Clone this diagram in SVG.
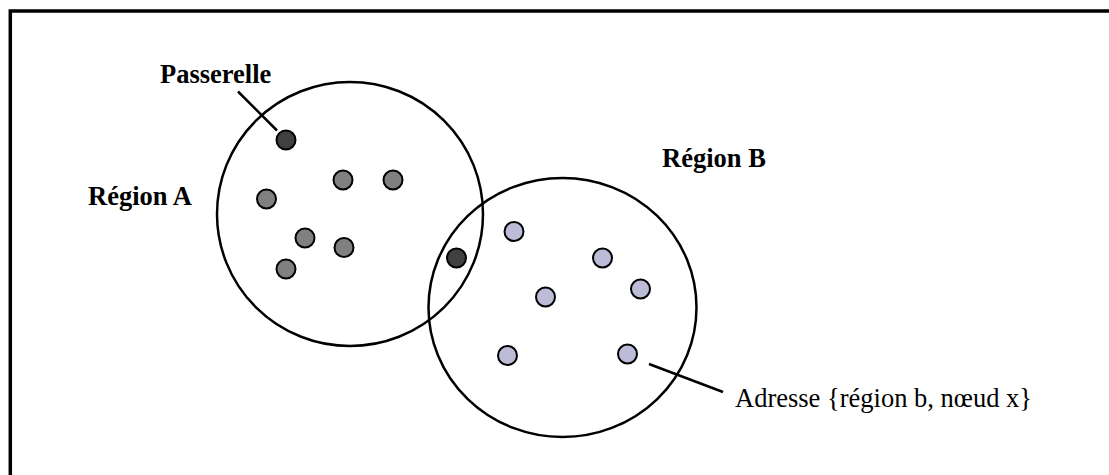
<svg xmlns="http://www.w3.org/2000/svg" width="1109" height="475" viewBox="0 0 1109 475">
  <style>
    .frame { fill: none; stroke: #000; stroke-width: 3.5; }
    .region { fill: none; stroke: #000; stroke-width: 2.5; }
    .lead { fill: none; stroke: #000; stroke-width: 2.5; }
    .node { stroke: #000; stroke-width: 2; }
    .gw { fill: #404040; }
    .na { fill: #808080; }
    .nb { fill: #bcbcd8; }
    .label { font-family: "Liberation Serif", "Times New Roman", serif; font-size: 26.5px; fill: #000; }
    .bold { font-weight: bold; }
  </style>
  <rect width="1109" height="475" fill="#fff"/>
  <!-- outer frame, open on the right and bottom -->
  <polyline class="frame" points="10.3,480 10.3,11 1115,11"/>

  <g id="region-a">
    <ellipse class="region" cx="350" cy="214" rx="133" ry="132"/>
    <text class="label bold" x="88" y="205">Région A</text>
  </g>
  <g id="region-b">
    <ellipse class="region" cx="562.5" cy="307.5" rx="134" ry="129.5"/>
    <text class="label bold" x="662" y="167">Région B</text>
  </g>

  <g id="nodes-a">
    <circle class="node na" cx="266.5" cy="199" r="9.5"/>
    <circle class="node na" cx="343" cy="180" r="9.5"/>
    <circle class="node na" cx="393" cy="180" r="9.5"/>
    <circle class="node na" cx="305" cy="238" r="9.5"/>
    <circle class="node na" cx="344" cy="247.5" r="9.5"/>
    <circle class="node na" cx="286" cy="269" r="9.5"/>
  </g>
  <g id="gateways">
    <circle class="node gw" cx="286" cy="140" r="9.5"/>
    <circle class="node gw" cx="456.5" cy="258" r="9.5"/>
  </g>
  <g id="nodes-b">
    <circle class="node nb" cx="514" cy="231.5" r="9.5"/>
    <circle class="node nb" cx="602.5" cy="258" r="9.5"/>
    <circle class="node nb" cx="640.5" cy="289" r="9.5"/>
    <circle class="node nb" cx="545.5" cy="297" r="9.5"/>
    <circle class="node nb" cx="507.5" cy="355.5" r="9.5"/>
    <circle class="node nb" cx="627.5" cy="354" r="9.5"/>
  </g>

  <g id="connectors">
    <line class="lead" x1="238" y1="91.5" x2="277" y2="130.5"/>
    <line class="lead" x1="649" y1="364" x2="723" y2="392"/>
  </g>

  <g id="passerelle-label">
    <text class="label bold" x="160" y="83">Passerelle</text>
  </g>
  <g id="address-label">
    <text class="label" x="735" y="407">Adresse {région b, nœud x}</text>
  </g>
</svg>
